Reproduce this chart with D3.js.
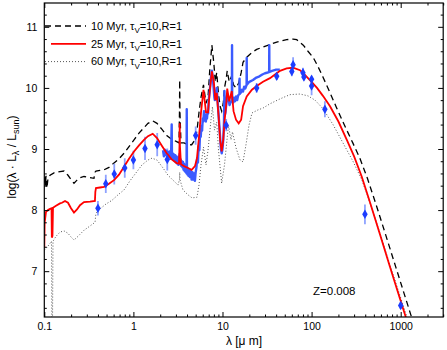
<!DOCTYPE html>
<html>
<head>
<meta charset="utf-8">
<script src="https://cdn.jsdelivr.net/npm/d3@7/dist/d3.min.js"></script>
<style>
body{margin:0;background:#fff;}
svg{font-family:"Liberation Sans",Arial,Helvetica,sans-serif;}
</style>
</head>
<body>
<div id="chart"></div>
<script>
var width=447, height=350;
var plotL=44.3, plotR=443.2, plotT=3, plotB=317;

// models: [lambda (micron), log(lambda L_lambda / Lsun)]
var model10=[[0.100,8.45],[0.1015,8.55],[0.103,8.40],[0.1045,8.56],[0.107,8.36],[0.110,8.52],[0.116,8.57],[0.1285,8.61],[0.150,8.63],[0.1664,8.64],[0.1845,8.57],[0.1994,8.5],[0.2154,8.44],[0.2328,8.49],[0.2516,8.53],[0.279,8.55],[0.326,8.53],[0.361,8.52],[0.371,8.62],[0.380,8.64],[0.422,8.65],[0.468,8.66],[0.532,8.7],[0.606,8.77],[0.689,8.84],[0.785,8.93],[0.893,9.04],[1.016,9.15],[1.156,9.26],[1.315,9.35],[1.458,9.42],[1.647,9.46],[1.841,9.42],[2.094,9.32],[2.364,9.22],[2.69,9.16],[3.06,9.12],[3.25,9.1],[3.29,9.6],[3.31,10.13],[3.33,9.6],[3.42,9.1],[3.70,9.1],[4.10,9.07],[4.51,9.07],[4.91,9.15],[5.17,9.3],[5.45,9.6],[5.74,9.85],[6.12,10.05],[6.53,9.75],[6.88,9.85],[7.2,10.3],[7.6,10.7],[8.0,10.4],[8.3,10.1],[8.61,10.25],[9.02,9.9],[9.4,9.7],[9.79,9.62],[10.2,9.75],[10.53,10.0],[11.0,10.15],[11.3,10.28],[11.9,10.1],[12.7,10.2],[13.3,10.05],[14.18,10.0],[15.2,10.08],[16.2,10.25],[17.0,10.42],[18.7,10.5],[21.4,10.58],[24.2,10.63],[28.5,10.67],[34.1,10.71],[40.6,10.75],[52.5,10.79],[62,10.8],[68.1,10.79],[80.7,10.7],[91.1,10.6],[104,10.5],[117,10.36],[134,10.18],[160,9.93],[190,9.68],[232,9.4],[290,9.1],[348,8.85],[423,8.52],[524,8.11],[680,7.59],[880,7.07],[1139,6.55],[1355,6.2]];

var model25=[[0.100,7.38],[0.101,7.80],[0.1045,7.97],[0.110,8.00],[0.116,8.02],[0.1205,8.03],[0.1215,7.55],[0.1235,7.58],[0.1252,8.04],[0.1353,8.07],[0.150,8.11],[0.158,8.12],[0.1708,8.15],[0.1845,8.12],[0.1994,8.03],[0.2154,7.96],[0.2328,8.01],[0.2516,8.08],[0.279,8.13],[0.326,8.14],[0.370,8.15],[0.374,8.30],[0.380,8.36],[0.422,8.37],[0.468,8.38],[0.532,8.43],[0.606,8.49],[0.689,8.58],[0.785,8.71],[0.893,8.84],[1.016,8.96],[1.156,9.06],[1.315,9.15],[1.458,9.21],[1.647,9.25],[1.841,9.18],[2.094,9.05],[2.364,8.93],[2.69,8.83],[3.06,8.77],[3.25,8.76],[3.29,9.05],[3.31,9.42],[3.33,9.05],[3.42,8.75],[3.70,8.72],[4.10,8.69],[4.51,8.66],[4.91,8.72],[5.17,8.85],[5.45,9.2],[5.74,9.6],[6.12,9.97],[6.53,9.6],[6.88,9.6],[7.2,9.95],[7.6,10.27],[8.0,10.1],[8.3,9.8],[8.61,9.92],[9.02,9.55],[9.4,9.15],[9.79,8.96],[10.2,9.15],[10.53,9.45],[11.0,9.72],[11.3,9.99],[11.9,9.78],[12.7,9.95],[13.3,9.62],[14.18,9.48],[15.2,9.42],[16.2,9.48],[17.0,9.7],[18.7,9.86],[21.4,9.97],[24.2,10.03],[28.5,10.1],[34.1,10.16],[40.6,10.24],[44.2,10.28],[52.5,10.32],[62,10.33],[74.1,10.29],[80.7,10.24],[91.1,10.16],[100,10.1],[115,10.0],[134,9.87],[161,9.7],[200,9.45],[250,9.14],[300,8.88],[365,8.55],[452,8.13],[586,7.6],[759,7.07],[982,6.55],[1168,6.2]];

var model60=[[0.100,7.34],[0.110,7.41],[0.1205,7.49],[0.1215,6.0],[0.1235,6.0],[0.1252,7.49],[0.1353,7.57],[0.150,7.64],[0.1664,7.66],[0.1845,7.62],[0.1994,7.56],[0.2154,7.51],[0.2389,7.57],[0.279,7.67],[0.326,7.74],[0.371,7.80],[0.380,7.95],[0.422,8.02],[0.493,8.1],[0.575,8.16],[0.672,8.25],[0.785,8.33],[0.916,8.48],[1.07,8.61],[1.249,8.74],[1.458,8.82],[1.618,8.85],[1.841,8.82],[2.149,8.69],[2.445,8.57],[2.782,8.49],[3.167,8.41],[3.29,8.5],[3.31,8.62],[3.33,8.5],[3.60,8.33],[4.10,8.25],[4.55,8.2],[5.17,8.21],[5.45,8.41],[5.74,8.74],[6.12,9.03],[6.53,8.74],[6.88,8.98],[7.43,9.48],[7.72,9.69],[8.13,9.31],[8.61,9.44],[9.02,8.98],[9.79,8.44],[10.53,8.74],[11.23,9.15],[11.68,9.39],[12.46,9.15],[12.95,9.28],[14.18,9.02],[15.72,8.82],[16.99,8.79],[18.35,9.07],[19.84,9.39],[21.44,9.59],[25.0,9.64],[28.5,9.67],[34.1,9.74],[44.2,9.82],[57.2,9.89],[74.1,9.9],[91.1,9.87],[109.2,9.8],[134.3,9.66],[174,9.4],[225,9.1],[291,8.8],[365,8.5],[452,8.12],[586,7.62],[759,7.1],[982,6.6],[1207,6.2]];

// observed spectrum
var obsSpec=[[2.15,8.98],[2.2,8.88],[2.25,8.99],[2.3,8.9],[2.35,8.97],[2.4,8.86],[2.45,8.95],[2.5,8.87],[2.55,8.96],[2.6,8.84],[2.65,8.92],[2.69,9.4],[2.71,8.86],[2.75,8.93],[2.8,8.82],[2.85,8.91],[2.9,8.8],[2.95,8.9],[3.0,8.78],[3.05,8.88],[3.1,8.76],[3.15,8.86],[3.2,8.74],[3.25,8.84],[3.3,8.92],[3.35,8.75],[3.4,8.83],[3.45,8.72],[3.5,8.8],[3.55,8.7],[3.6,8.79],[3.65,8.66],[3.7,8.76],[3.75,8.64],[3.8,8.74],[3.85,8.62],[3.9,8.72],[3.95,8.6],[3.97,9.65],[3.99,8.7],[4.05,8.58],[4.1,8.68],[4.15,8.56],[4.2,8.66],[4.3,8.54],[4.4,8.64],[4.5,8.5],[4.6,8.62],[4.7,8.5],[4.8,8.6],[4.9,8.48],[5.0,8.62],[5.1,8.7],[5.2,8.85],[5.3,8.78],[5.4,9.05],[5.5,8.98],[5.6,9.25],[5.7,9.2],[5.8,9.38],[5.9,9.3],[6.0,9.5],[6.1,9.45],[6.2,9.62],[6.3,9.5],[6.4,9.56],[6.5,9.45],[6.6,9.55],[6.7,9.5],[6.8,9.62],[6.9,9.58],[7.0,9.8],[7.2,9.95],[7.4,10.15],[7.6,10.28],[7.7,10.22],[7.8,10.15],[7.9,10.05],[8.0,9.95],[8.1,9.85],[8.2,9.8],[8.4,9.9],[8.6,10.0],[8.8,9.8],[9.0,9.6],[9.2,9.4],[9.4,9.2],[9.6,9.0],[9.8,8.93],[10.0,9.0],[10.2,9.15],[10.4,9.45],[10.51,9.95],[10.6,9.55],[10.8,9.6],[11.0,9.72],[11.3,9.9],[11.5,9.82],[11.8,9.78],[12.0,9.72],[12.3,9.76],[12.75,9.8],[12.8,10.7],[12.85,9.8],[13.2,9.76],[13.5,9.84],[13.8,9.78],[14.2,9.86],[14.6,9.8],[15.0,9.88],[15.5,9.9],[15.55,10.15],[15.6,9.9],[16.0,9.92],[16.5,9.97],[17.0,9.94],[17.5,10.02],[18.0,9.99],[18.65,10.05],[18.7,10.49],[18.75,10.05],[20,10.1],[22,10.13],[24,10.17],[26,10.19],[28,10.22],[30,10.24],[33.4,10.26],[33.5,10.7],[33.6,10.26],[36,10.28],[40,10.3],[44,10.3]];

// photometry: [lambda, value, error]
var obsPhot=[[0.40,8.03,0.12],[0.49,8.43,0.15],[0.61,8.59,0.17],[0.80,8.69,0.16],[1.0,8.82,0.15],[1.35,9.01,0.19],[1.85,9.07,0.19],[2.4,8.83,0.18],[5.0,9.22,0.15],[11.0,9.39,0.1],[24.2,10.0,0.08],[40.6,10.19,0.06],[60,10.27,0.08],[62,10.38,0.12],[80,10.25,0.08],[82,10.18,0.06],[100,10.14,0.06],[100,10.03,0.15],[141,9.65,0.13],[397,7.93,0.16],[1000,6.44,0.06]];

var xTicks=[0.1,1,10,100,1000];
var xTickLabels=["0.1","1","10","100","1000"];
var yTicks=[7,8,9,10,11];
var legendData=[{age:"10 Myr",data:model10},{age:"25 Myr",data:model25},{age:"60 Myr",data:model60}];

var x=d3.scaleLog().domain([0.1,3000]).range([plotL,plotR]);
var y=d3.scaleLinear().domain([6.25,11.39]).range([plotB,plotT]);

var xMinor=[];
xTicks.forEach(function(d){
  for(var k=2;k<=9;k++){ if(d*k<=3000) xMinor.push(d*k); }
});
var yMinor=d3.range(6.4,11.4,0.2).filter(function(v){return Math.abs(v-Math.round(v))>0.05;});

var svg=d3.select("#chart").append("svg")
  .attr("width",width).attr("height",height);

svg.append("defs").append("clipPath").attr("id","plotclip")
  .append("rect").attr("x",plotL).attr("y",plotT)
  .attr("width",plotR-plotL).attr("height",plotB-plotT);

var line=d3.line().x(function(d){return x(d[0]);}).y(function(d){return y(d[1]);});

var g=svg.append("g").attr("clip-path","url(#plotclip)");

var styles=[
  {stroke:"#000",width:1.3,dash:"6,4"},
  {stroke:"#ff0000",width:1.8,dash:null},
  {stroke:"#555",width:1,dash:"1,2"}
];

// dotted and dashed models underneath
g.append("path").datum(model60).attr("d",line).attr("fill","none")
  .attr("stroke",styles[2].stroke).attr("stroke-width",styles[2].width).attr("stroke-dasharray",styles[2].dash);
g.append("path").datum(model10).attr("d",line).attr("fill","none")
  .attr("stroke",styles[0].stroke).attr("stroke-width",styles[0].width).attr("stroke-dasharray",styles[0].dash);

// error bars
g.selectAll("line.err").data(obsPhot).enter().append("line")
  .attr("class","err")
  .attr("x1",function(d){return x(d[0]);}).attr("x2",function(d){return x(d[0]);})
  .attr("y1",function(d){return y(d[1]-d[2]);}).attr("y2",function(d){return y(d[1]+d[2]);})
  .attr("stroke","#8ea2ff").attr("stroke-width",1.8);

// spectrum
g.append("path").datum(obsSpec).attr("d",line).attr("fill","none")
  .attr("stroke","#3b5bff").attr("stroke-width",2.4).attr("stroke-linejoin","round");

g.append("path").datum(model25).attr("d",line).attr("fill","none")
  .attr("stroke",styles[1].stroke).attr("stroke-width",styles[1].width);

var diamond=d3.symbol().type(d3.symbolDiamond).size(26);
g.selectAll("path.pt").data(obsPhot).enter().append("path")
  .attr("class","pt").attr("d",diamond)
  .attr("transform",function(d){return "translate("+x(d[0])+","+y(d[1])+")";})
  .attr("fill","#1d3dff");

// axes
function styleAxis(sel){
  sel.select(".domain").remove();
  sel.selectAll("line").attr("stroke","#000");
  sel.selectAll("text").attr("fill","#000").style("font-size","10.5px");
}
var fmt=function(d){ return xTickLabels[xTicks.indexOf(d)]; };

svg.append("g").attr("transform","translate(0,"+plotB+")")
  .call(d3.axisBottom(x).tickValues(xTicks).tickFormat(fmt).tickSize(-5).tickPadding(6)).call(styleAxis);
svg.append("g").attr("transform","translate(0,"+plotB+")")
  .call(d3.axisBottom(x).tickValues(xMinor).tickFormat("").tickSize(-2.5)).call(styleAxis);
svg.append("g").attr("transform","translate(0,"+plotT+")")
  .call(d3.axisTop(x).tickValues(xTicks).tickFormat("").tickSize(-5)).call(styleAxis);
svg.append("g").attr("transform","translate(0,"+plotT+")")
  .call(d3.axisTop(x).tickValues(xMinor).tickFormat("").tickSize(-2.5)).call(styleAxis);

svg.append("g").attr("transform","translate("+plotL+",0)")
  .call(d3.axisLeft(y).tickValues(yTicks).tickFormat(d3.format("d")).tickSize(-5).tickPadding(7)).call(styleAxis);
svg.append("g").attr("transform","translate("+plotL+",0)")
  .call(d3.axisLeft(y).tickValues(yMinor).tickFormat("").tickSize(-2.5)).call(styleAxis);
svg.append("g").attr("transform","translate("+plotR+",0)")
  .call(d3.axisRight(y).tickValues(yTicks).tickFormat("").tickSize(-5)).call(styleAxis);
svg.append("g").attr("transform","translate("+plotR+",0)")
  .call(d3.axisRight(y).tickValues(yMinor).tickFormat("").tickSize(-2.5)).call(styleAxis);

svg.append("rect").attr("x",plotL).attr("y",plotT)
  .attr("width",plotR-plotL).attr("height",plotB-plotT)
  .attr("fill","none").attr("stroke","#000").attr("stroke-width",1.2);

// axis titles
svg.append("text").attr("x",244).attr("y",345).attr("text-anchor","middle")
  .style("font-size","12px").text("λ [μ m]");

var ylab=svg.append("text").attr("transform","translate(16,157) rotate(-90)")
  .attr("text-anchor","middle").style("font-size","12px");
ylab.append("tspan").text("log(λ · L");
ylab.append("tspan").attr("dy",3).style("font-size","9px").text("λ");
ylab.append("tspan").attr("dy",-3).text(" / L");
ylab.append("tspan").attr("dy",3).style("font-size","9px").text("sun");
ylab.append("tspan").attr("dy",-3).text(")");

svg.append("text").attr("x",313).attr("y",295).style("font-size","11.5px").text("Z=0.008");

// legend
var leg=svg.selectAll("g.leg").data(legendData).enter().append("g")
  .attr("class","leg")
  .attr("transform",function(d,i){return "translate(0,"+(26+i*17.8)+")";});
leg.append("line").attr("x1",function(d,i){return i==1?51:45;}).attr("x2",86)
  .attr("y1",0).attr("y2",0)
  .attr("stroke",function(d,i){return styles[i].stroke;})
  .attr("stroke-width",function(d,i){return styles[i].width;})
  .attr("stroke-dasharray",function(d,i){return styles[i].dash;});
var lt=leg.append("text").attr("x",91).attr("y",3.8).style("font-size","11px");
lt.append("tspan").text(function(d){return d.age+", τ";});
lt.append("tspan").attr("dy",3.5).style("font-size","8px").text("V");
lt.append("tspan").attr("dy",-3.5).text("=10,R=1");
</script>
</body>
</html>
